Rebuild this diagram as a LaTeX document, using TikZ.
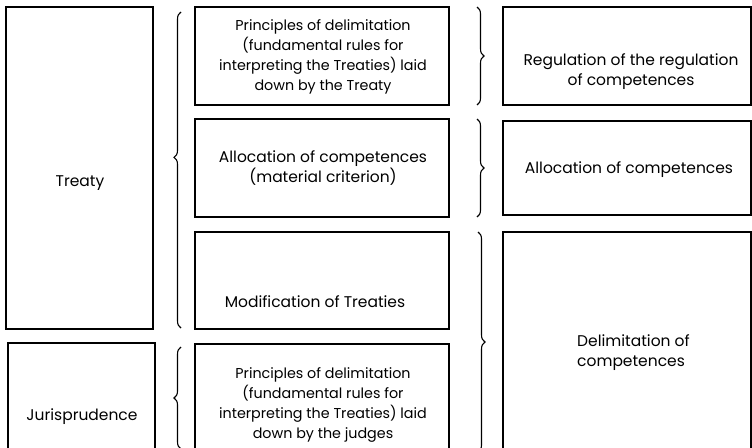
\documentclass[tikz,border=0pt]{standalone}
\usepackage{fontspec}
\setmainfont{Poppins}
\usetikzlibrary{decorations.pathreplacing}
\begin{document}
\begin{tikzpicture}[x=1pt,y=-1pt,
  box/.style={draw, line width=1.1pt, inner sep=0pt},
  txt/.style={align=center, inner sep=0pt, font=\fontsize{15.5}{20}\selectfont},
  txts/.style={align=center, inner sep=0pt, font=\fontsize{14.3}{20}\selectfont},
  brc/.style={decorate, decoration={brace, amplitude=7pt}, line width=1.1pt}]
\useasboundingbox (0,0) rectangle (752,447);
\clip (0,0) rectangle (752,447);
% boxes
\node[box, minimum width=147pt, minimum height=322pt] (treatybox) at (79.5,168) {};
\node[box, minimum width=147pt, minimum height=120pt] (jurbox) at (81.5,403) {};
\node[box, minimum width=254pt, minimum height=98pt] (m1) at (322,56) {};
\node[box, minimum width=254pt, minimum height=98pt] (m2) at (322,168) {};
\node[box, minimum width=254pt, minimum height=97pt] (m3) at (322,280.5) {};
\node[box, minimum width=254pt, minimum height=120pt] (m4) at (322,404) {};
\node[box, minimum width=248pt, minimum height=98pt] (r1) at (627,56) {};
\node[box, minimum width=248pt, minimum height=94pt] (r2) at (627,168) {};
\node[box, minimum width=248pt, minimum height=230pt] (r3) at (627,347) {};
% texts
\node[txt] (treaty) at (80,183) {Treaty};
\node[txt] (jur) at (82,417) {Jurisprudence};
\node[txts] (t1) at (323,57) {Principles of delimitation\\(fundamental rules for\\interpreting the Treaties) laid\\down by the Treaty};
\node[txt] (t2) at (323,168) {Allocation of competences\\(material criterion)};
\node[txt] (t3) at (315,302) {Modification of Treaties};
\node[txts] (t4) at (323,405) {Principles of delimitation\\(fundamental rules for\\interpreting the Treaties) laid\\down by the judges};
\node[txt] (tr1) at (631,72) {Regulation of the regulation\\of competences};
\node[txt] (tr2) at (629,170) {Allocation of competences};
\node[txt, align=left, anchor=west] (tr3) at (577,353) {Delimitation of\\competences};
% brace ends
\coordinate (lb1a) at (181,328); \coordinate (lb1b) at (181,12);
\coordinate (lb2a) at (181,449); \coordinate (lb2b) at (181,347);
\coordinate (rb1a) at (477,7); \coordinate (rb1b) at (477,105);
\coordinate (rb2a) at (477,119); \coordinate (rb2b) at (477,217);
\coordinate (rb3a) at (478,232); \coordinate (rb3b) at (478,452);
\draw[brc, decoration={aspect=0.54}] (lb1a) -- (lb1b);
\draw[brc] (lb2a) -- (lb2b);
\draw[brc] (rb1a) -- (rb1b);
\draw[brc] (rb2a) -- (rb2b);
\draw[brc] (rb3a) -- (rb3b);
\end{tikzpicture}
\end{document}
